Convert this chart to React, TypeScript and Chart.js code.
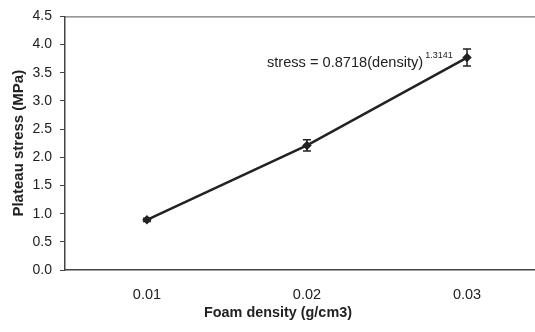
import React, { useEffect, useRef } from "react";
import { Chart, registerables } from "chart.js";

Chart.register(...registerables);

const densities = [0.01, 0.02, 0.03];
const stressValues = [0.89, 2.21, 3.77];
const stressErrors = [0.03, 0.1, 0.15];
const yTicks = [0, 0.5, 1, 1.5, 2, 2.5, 3, 3.5, 4, 4.5];
const xTitle = "Foam density (g/cm3)";
const yTitle = "Plateau stress (MPa)";
const fitText = "stress = 0.8718(density)";
const fitExponent = "1.3141";

const FONT = "'Liberation Sans', Arial, sans-serif";
const INK = "#222";

const overlayPlugin = {
  id: "overlay",
  afterDatasetsDraw(chart: any) {
    const { ctx, scales, chartArea } = chart;
    const xs = scales.x;
    const ys = scales.y;
    ctx.save();
    // error bars
    ctx.strokeStyle = INK;
    ctx.lineWidth = 1.5;
    densities.forEach((d, i) => {
      const px = xs.getPixelForValue(d);
      const top = ys.getPixelForValue(stressValues[i] + stressErrors[i]);
      const bot = ys.getPixelForValue(stressValues[i] - stressErrors[i]);
      ctx.beginPath();
      ctx.moveTo(px, top);
      ctx.lineTo(px, bot);
      ctx.moveTo(px - 4, top);
      ctx.lineTo(px + 4, top);
      ctx.moveTo(px - 4, bot);
      ctx.lineTo(px + 4, bot);
      ctx.stroke();
    });
    // top border
    ctx.lineWidth = 1;
    ctx.strokeStyle = "#555";
    ctx.beginPath();
    ctx.moveTo(chartArea.left, chartArea.top + 0.5);
    ctx.lineTo(chartArea.right + 10, chartArea.top + 0.5);
    ctx.stroke();
    // annotation
    ctx.fillStyle = INK;
    ctx.font = `14.6px ${FONT}`;
    ctx.textBaseline = "alphabetic";
    ctx.textAlign = "left";
    const tx = 267;
    const ty = 67;
    ctx.fillText(fitText, tx, ty);
    const w = ctx.measureText(fitText).width;
    ctx.font = `9px ${FONT}`;
    ctx.fillText(fitExponent, tx + w + 2, ty - 9);
    // x title
    ctx.font = `bold 14.4px ${FONT}`;
    ctx.textAlign = "center";
    ctx.textBaseline = "middle";
    ctx.fillText(xTitle, 278, 313);
    ctx.restore();
  },
};

export default function App() {
  const ref = useRef<HTMLCanvasElement>(null);
  useEffect(() => {
    document.body.style.margin = "0";
    const chart = new Chart(ref.current!, {
      type: "line",
      data: {
        datasets: [
          {
            data: densities.map((d, i) => ({ x: d, y: stressValues[i] })),
            borderColor: INK,
            backgroundColor: INK,
            borderWidth: 2.5,
            pointStyle: "rectRot",
            pointRadius: 3,
            tension: 0,
          },
        ],
      },
      options: {
        responsive: false,
        animation: false,
        layout: { padding: { top: 16, right: 0, left: 0, bottom: 0 } },
        plugins: { legend: { display: false }, tooltip: { enabled: false } },
        scales: {
          x: {
            type: "linear",
            min: 0.00488,
            max: 0.03428,
            afterBuildTicks: (s: any) => {
              s.ticks = densities.map((v) => ({ value: v }));
            },
            afterFit: (s: any) => {
              s.height = 62;
            },
            grid: { display: false, drawTicks: false },
            border: { display: true, color: "#444", width: 1.5 },
            ticks: {
              padding: 16,
              color: INK,
              font: { family: FONT, size: 14.5 },
              callback: (v: any) => Number(v).toFixed(2),
              maxRotation: 0,
            },
          },
          y: {
            min: 0,
            max: 4.5,
            afterBuildTicks: (s: any) => {
              s.ticks = yTicks.map((v) => ({ value: v }));
            },
            afterFit: (s: any) => {
              s.width = 65;
            },
            grid: {
              color: "rgba(0,0,0,0)",
              tickColor: "#444",
              tickLength: 5,
              drawTicks: true,
            },
            border: { display: true, color: "#444", width: 1.5 },
            ticks: {
              padding: 8,
              color: INK,
              font: { family: FONT, size: 14 },
              callback: (v: any) => Number(v).toFixed(1),
            },
            title: {
              display: true,
              text: yTitle,
              color: INK,
              font: { family: FONT, size: 15, weight: "bold" },
              padding: { top: 10, bottom: 0 },
            },
          },
        },
      },
      plugins: [overlayPlugin],
    });
    return () => chart.destroy();
  }, []);
  return (
    <div style={{ width: 535, height: 332, overflow: "hidden" }}>
      <canvas ref={ref} width={542} height={332} style={{ display: "block" }} />
    </div>
  );
}
